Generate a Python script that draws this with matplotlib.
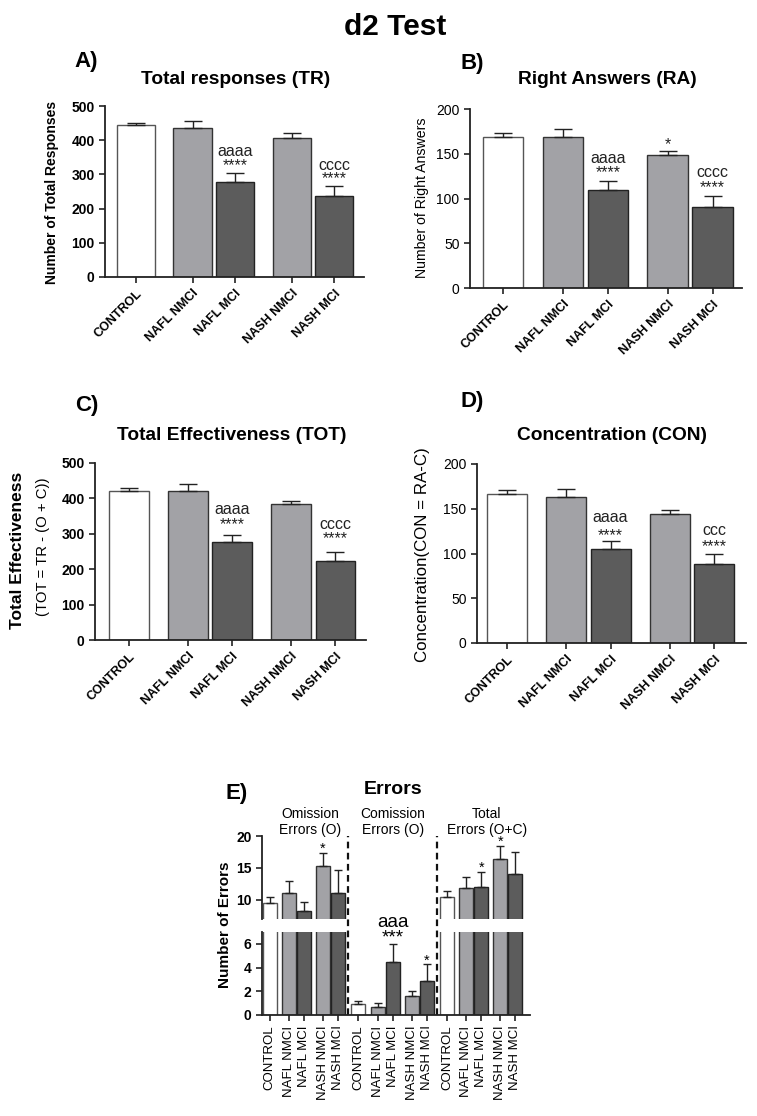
import matplotlib
matplotlib.use('Agg')
import matplotlib.pyplot as plt
import numpy as np

plt.rcParams['font.family'] = ['Liberation Sans', 'DejaVu Sans']

W, H = 757, 1116

groups = ['CONTROL', 'NAFL NMCI', 'NAFL MCI', 'NASH NMCI', 'NASH MCI']

# panel A - total responses
tr_mean = [443, 435, 277, 405, 238]
tr_err = [7, 20, 26, 17, 27]
# panel B - right answers
ra_mean = [169, 169, 110, 149, 91]
ra_err = [4, 8.5, 9, 4, 12]
# panel C - total effectiveness
tot_mean = [421, 422, 276, 384, 224]
tot_err = [8, 18, 20, 10, 26]
# panel D - concentration
con_mean = [167, 163.5, 105, 144.5, 88]
con_err = [3.5, 9, 9.5, 4.5, 11]

# panel E - errors
om_mean = [9.5, 11.1, 8.3, 15.3, 11.1]
om_err = [0.95, 1.85, 1.4, 2.0, 3.6]
com_mean = [0.9, 0.7, 4.45, 1.6, 2.87]
com_err = [0.25, 0.3, 1.5, 0.42, 1.4]
toterr_mean = [10.4, 11.9, 12.0, 16.45, 14.0]
toterr_err = [0.95, 1.7, 2.3, 2.05, 3.5]

# significance marks: (bar index, text, y)
marks_a = [(2, 'aaaa', 367), (2, '****', 326), (4, 'cccc', 326), (4, '****', 287)]
marks_b = [(3, '*', 160), (2, 'aaaa', 145), (2, '****', 129), (4, 'cccc', 129), (4, '****', 112)]
marks_c = [(2, 'aaaa', 368), (2, '****', 326), (4, 'cccc', 326), (4, '****', 285)]
marks_d = [(2, 'aaaa', 140.5), (2, '****', 120.5), (4, 'ccc', 125.7), (4, '****', 108)]

fills = ['white', '#a2a2a6', '#5c5c5c']
edges = ['#555555', '#333333', '#222222']
kind = [0, 1, 2, 1, 2]
pos = np.array([0, 1.33, 2.33, 3.66, 4.66])


def rect(l, r, t, b):
    return [l / W, 1 - b / H, (r - l) / W, (b - t) / H]


def style(ax, bold_ticks):
    for s in ['top', 'right']:
        ax.spines[s].set_visible(False)
    for s in ['left', 'bottom']:
        ax.spines[s].set_linewidth(1.3)
        ax.spines[s].set_color('#222222')
    ax.tick_params(axis='both', direction='out', length=4, width=1.2, color='#222222')
    for t in ax.get_yticklabels():
        t.set_fontsize(10)
        if bold_ticks:
            t.set_fontweight('bold')


def bar_panel(box, means, errs, ylim, yticks, xlim, bold_ticks, marks):
    ax = fig.add_axes(rect(*box))
    ax.bar(pos, means, width=0.9, color=[fills[k] for k in kind],
           edgecolor=[edges[k] for k in kind], linewidth=1.0, zorder=2)
    ax.errorbar(pos, means, yerr=[np.zeros(5), errs], fmt='none', ecolor='#222222',
                elinewidth=1.0, capsize=6.5, capthick=1.0, zorder=3)
    ax.set_xlim(*xlim)
    ax.set_ylim(*ylim)
    ax.set_yticks(yticks)
    ax.set_xticks(pos)
    ax.set_xticklabels(groups, rotation=45, ha='right', rotation_mode='anchor',
                       fontsize=9, fontweight='bold')
    style(ax, bold_ticks)
    for i, txt, y in marks:
        ax.text(pos[i], y, txt, ha='center', va='center', fontsize=11.5, color='#222222')
    return ax


fig = plt.figure(figsize=(W / 100, H / 100), dpi=100)

fig.text(395 / W, 1 - 27 / H, 'd2 Test', ha='center', va='center', fontsize=21.5, fontweight='bold')

title_fs = 13.8
letter_fs = 16

# A
bar_panel((105, 364, 106, 277), tr_mean, tr_err, (0, 500), range(0, 501, 100),
          (-0.73, 5.36), True, marks_a)
fig.text(86 / W, 1 - 62 / H, 'A)', ha='center', va='center', fontsize=letter_fs, fontweight='bold')
fig.text(236 / W, 1 - 79 / H, 'Total responses (TR)', ha='center', va='center',
         fontsize=title_fs, fontweight='bold')
fig.text(52 / W, 1 - 192 / H, 'Number of Total Responses', rotation=90, ha='center',
         va='center', fontsize=10, fontweight='bold')

# B
bar_panel((470, 742, 109, 288), ra_mean, ra_err, (0, 200), range(0, 201, 50),
          (-0.73, 5.31), False, marks_b)
fig.text(472 / W, 1 - 63 / H, 'B)', ha='center', va='center', fontsize=letter_fs, fontweight='bold')
fig.text(607 / W, 1 - 80 / H, 'Right Answers (RA)', ha='center', va='center',
         fontsize=title_fs, fontweight='bold')
fig.text(422 / W, 1 - 198 / H, 'Number of Right Answers', rotation=90, ha='center',
         va='center', fontsize=10.2)

# C
bar_panel((95, 366, 463, 640), tot_mean, tot_err, (0, 500), range(0, 501, 100),
          (-0.77, 5.35), True, marks_c)
fig.text(87 / W, 1 - 405 / H, 'C)', ha='center', va='center', fontsize=letter_fs, fontweight='bold')
fig.text(232 / W, 1 - 435 / H, 'Total Effectiveness (TOT)', ha='center', va='center',
         fontsize=title_fs, fontweight='bold')
fig.text(18 / W, 1 - 550 / H, 'Total Effectiveness', rotation=90, ha='center',
         va='center', fontsize=12.5, fontweight='bold')
fig.text(43 / W, 1 - 547 / H, '(TOT = TR - (O + C))', rotation=90, ha='center',
         va='center', fontsize=10.7)

# D
bar_panel((477, 746, 464, 643), con_mean, con_err, (0, 200), range(0, 201, 50),
          (-0.67, 5.37), False, marks_d)
fig.text(472 / W, 1 - 402 / H, 'D)', ha='center', va='center', fontsize=letter_fs, fontweight='bold')
fig.text(612 / W, 1 - 435 / H, 'Concentration (CON)', ha='center', va='center',
         fontsize=title_fs, fontweight='bold')
fig.text(423 / W, 1 - 555 / H, 'Concentration(CON = RA-C)', rotation=90, ha='center',
         va='center', fontsize=12.2)

# E - broken axis
base = np.array([0, 1.3, 2.3, 3.55, 4.55])
epos = np.concatenate([base, base + 5.9, base + 11.8])
emean = om_mean + com_mean + toterr_mean
eerr = om_err + com_err + toterr_err
ekind = kind * 3
elabels = groups * 3
dividers = [(base[-1] + 5.9) / 2, (base[-1] + 5.9 + 11.8) / 2]

ax_top = fig.add_axes(rect(262, 530, 836, 919))
ax_bot = fig.add_axes(rect(262, 530, 932, 1015))
for ax in (ax_top, ax_bot):
    ax.bar(epos, emean, width=0.93, color=[fills[k] for k in ekind],
           edgecolor=[edges[k] for k in ekind], linewidth=1.0, zorder=2)
    ax.errorbar(epos, emean, yerr=[np.zeros(15), eerr], fmt='none', ecolor='#222222',
                elinewidth=1.0, capsize=2.8, capthick=1.0, zorder=3)
    ax.set_xlim(-0.51, 17.33)
    ax.patch.set_visible(False)
ax_top.set_ylim(7, 20)
ax_top.set_yticks([10, 15, 20])
ax_bot.set_ylim(0, 7)
ax_bot.set_yticks([0, 2, 4, 6])
style(ax_top, True)
style(ax_bot, True)
ax_top.spines['bottom'].set_visible(False)
ax_top.tick_params(axis='x', bottom=False, labelbottom=False)
ax_bot.set_xticks(epos)
ax_bot.set_xticklabels(elabels, rotation=90, fontsize=9.5)

for d in dividers:
    ax_top.axvline(d, ymin=-(1015 - 919) / (919 - 836), ymax=1.0, color='#111111',
                   linestyle=(0, (3, 2)), linewidth=1.6, clip_on=False, zorder=4)

ax_top.text(epos[3], 17.96, '*', ha='center', va='center', fontsize=10.5)
ax_top.text(epos[12], 15.08, '*', ha='center', va='center', fontsize=10.5)
ax_top.text(epos[13], 19.1, '*', ha='center', va='center', fontsize=10.5)
ax_bot.text(epos[7], 7.15, 'aaa\n***', ha='center', va='center', fontsize=13.5,
            linespacing=0.85, clip_on=False)
ax_bot.text(epos[9], 4.55, '*', ha='center', va='center', fontsize=10.5)

fig.text(237 / W, 1 - 793 / H, 'E)', ha='center', va='center', fontsize=letter_fs, fontweight='bold')
fig.text(393 / W, 1 - 790 / H, 'Errors', ha='center', va='center', fontsize=14,
         fontweight='bold')
fig.text(310 / W, 1 - 822 / H, 'Omission\nErrors (O)', ha='center', va='center',
         fontsize=10, linespacing=1.15)
fig.text(393 / W, 1 - 822 / H, 'Comission\nErrors (O)', ha='center', va='center',
         fontsize=10, linespacing=1.15)
fig.text(487 / W, 1 - 822 / H, 'Total\nErrors (O+C)', ha='center', va='center',
         fontsize=10, linespacing=1.15)
fig.text(225 / W, 1 - 925 / H, 'Number of Errors', rotation=90, ha='center',
         va='center', fontsize=11, fontweight='bold')

plt.savefig('out.png', dpi=100)
